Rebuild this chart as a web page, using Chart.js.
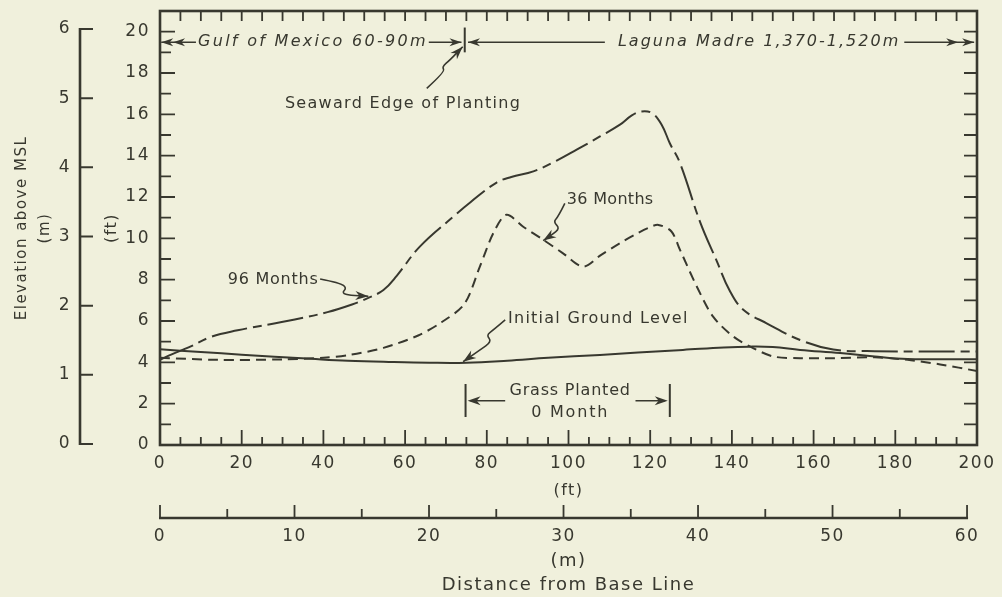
<!DOCTYPE html>
<html><head><meta charset="utf-8">
<script src="https://cdn.jsdelivr.net/npm/chart.js@4.4.0/dist/chart.umd.min.js"></script>
<style>html,body{margin:0;padding:0;background:#f0f0dc;}canvas{display:block;}</style>
</head><body>
<canvas id="c" width="1002" height="597"></canvas>
<script>
// ---------- data (feet) ----------
const distInitial = [0, 10, 20, 28, 37, 46, 56, 66, 75, 85, 95, 107.7, 117, 128, 138, 144.4, 150, 156.7, 166.5, 175, 183, 191, 200];
const elevInitial = [4.63, 4.5, 4.37, 4.27, 4.17, 4.08, 4.02, 3.98, 3.98, 4.08, 4.22, 4.36, 4.48, 4.6, 4.72, 4.76, 4.74, 4.6, 4.45, 4.28, 4.16, 4.15, 4.15];

const dist36 = [0, 14, 30, 40, 46.5, 54.7, 63.2, 69, 74.5, 78.3, 81.6, 84.8, 89, 93.8, 98.5, 103.6, 108, 112.6, 116, 119.5, 122, 125.2, 127.3, 131.4, 135.4, 140.4, 145.3, 150.2, 156.7, 165, 175, 183, 191, 200];
const elev36 = [4.22, 4.12, 4.14, 4.22, 4.36, 4.7, 5.3, 5.95, 6.82, 8.63, 10.25, 11.14, 10.55, 9.93, 9.3, 8.63, 9.2, 9.77, 10.15, 10.5, 10.65, 10.33, 9.44, 7.67, 6.21, 5.24, 4.68, 4.28, 4.2, 4.2, 4.24, 4.12, 3.9, 3.58];

const dist96 = [0, 3, 7, 12.6, 19, 27.3, 33, 41, 47, 51, 54.7, 58, 63.6, 71.8, 76, 82.4, 86, 91.4, 97, 102, 107.7, 112.6, 115.5, 117.9, 120.5, 122.8, 124.8, 127.3, 132.2, 136.3, 139.5, 142.8, 148.5, 156.7, 164.8, 175, 188, 200];
const elev96 = [4.12, 4.4, 4.72, 5.24, 5.55, 5.86, 6.07, 6.43, 6.8, 7.12, 7.5, 8.2, 9.6, 11.05, 11.75, 12.7, 12.97, 13.24, 13.75, 14.29, 14.93, 15.5, 15.95, 16.14, 16.05, 15.5, 14.6, 13.64, 10.8, 8.9, 7.45, 6.54, 5.89, 5.08, 4.62, 4.54, 4.52, 4.52];

// ---------- tick labels ----------
const ftDistTicks = [0, 20, 40, 60, 80, 100, 120, 140, 160, 180, 200];
const ftElevTicks = [0, 2, 4, 6, 8, 10, 12, 14, 16, 18, 20];
const mDistTicks = [0, 10, 20, 30, 40, 50, 60];
const mElevTicks = [0, 1, 2, 3, 4, 5, 6];

// ---------- annotations (data units, ft) ----------
const notes = [
  {text: 'Gulf of Mexico 60-90m', x: 9.3, y: 19.49, align: 'left', size: 16, sp: 2.3, italic: true},
  {text: 'Laguna Madre 1,370-1,520m', x: 112.1, y: 19.49, align: 'left', size: 16, sp: 2.0, italic: true},
  {text: 'Seaward Edge of Planting', x: 59.5, y: 16.5, align: 'center', size: 16, sp: 1.3},
  {text: '96 Months', x: 16.6, y: 7.98, align: 'left', size: 16, sp: 0.75},
  {text: '36 Months', x: 99.6, y: 11.85, align: 'left', size: 16, sp: 0.3},
  {text: 'Initial Ground Level', x: 85.2, y: 6.1, align: 'left', size: 16, sp: 1.25},
  {text: 'Grass Planted', x: 100.4, y: 2.61, align: 'center', size: 16, sp: 0.8},
  {text: '0 Month', x: 100.4, y: 1.57, align: 'center', size: 16, sp: 1.8}
];
const leaders = [
  [[65.3, 17.26], [69.8, 18.06], [69.0, 18.3], [71.0, 18.63], [74.1, 19.27]],
  [[39.2, 8.03], [44.1, 7.84], [45.7, 7.6], [44.5, 7.35], [46.5, 7.24], [51.0, 7.2]],
  [[99.1, 11.69], [97.5, 11.05], [96.3, 10.8], [97.9, 10.48], [95.9, 10.16], [93.8, 9.89]],
  [[84.5, 6.05], [81.6, 5.56], [79.9, 5.32], [81.2, 5.0], [78.3, 4.6], [74.2, 4.03]]
];

const BG = '#f0f0dc';
const INK = '#38382f';
const FONT = '"DejaVu Sans", sans-serif';
const pts = (xs, ys) => xs.map((x, i) => ({x, y: ys[i]}));
const fixTicks = arr => scale => { scale.ticks = arr.map(v => ({value: v})); };
const fitH = h => s => { s.height = h; s.paddingLeft = 0; s.paddingRight = 0; s.paddingTop = 0; s.paddingBottom = 0; };
const fitW = w => s => { s.width = w; s.paddingLeft = 0; s.paddingRight = 0; s.paddingTop = 0; s.paddingBottom = 0; };

function arrowHead(ctx, tx, ty, fx, fy, len, half) {
  const a = Math.atan2(ty - fy, tx - fx), c = Math.cos(a), s = Math.sin(a);
  ctx.beginPath();
  ctx.moveTo(tx, ty);
  ctx.lineTo(tx - len * c + half * s, ty - len * s - half * c);
  ctx.lineTo(tx - len * 0.7 * c, ty - len * 0.7 * s);
  ctx.lineTo(tx - len * c - half * s, ty - len * s + half * c);
  ctx.closePath();
  ctx.fill();
}

const paper = {
  id: 'paper',
  beforeDraw(chart) {
    const {ctx, width, height} = chart;
    ctx.save();
    ctx.fillStyle = BG;
    ctx.fillRect(0, 0, width, height);
    ctx.restore();
    ctx.letterSpacing = '1.5px';
  },
  afterDraw(chart) {
    const {ctx, chartArea: a, scales: {x, y, xm, ym}} = chart;
    const X = v => x.getPixelForValue(v), Y = v => y.getPixelForValue(v);
    ctx.save();
    ctx.strokeStyle = INK; ctx.fillStyle = INK;
    // frame ticks
    ctx.lineWidth = 1.8;
    ctx.beginPath();
    for (let v = 5; v < 200; v += 5) {
      const px = X(v);
      const L = v % 20 === 0 ? 15 : 8;
      ctx.moveTo(px, a.bottom); ctx.lineTo(px, a.bottom - L);
      ctx.moveTo(px, a.top); ctx.lineTo(px, a.top + 10);
    }
    for (let v = 1; v < 21; v += 1) {
      const py = Y(v);
      ctx.moveTo(a.left, py); ctx.lineTo(a.left + (v % 2 === 0 ? 15 : 11), py);
      ctx.moveTo(a.right, py); ctx.lineTo(a.right - 13, py);
    }
    ctx.stroke();
    // frame
    ctx.lineWidth = 2.6;
    ctx.strokeRect(a.left, a.top, a.right - a.left, a.bottom - a.top);

    // metric elevation axis
    const mx = ym.right - 20;
    ctx.lineWidth = 2.6;
    ctx.beginPath();
    ctx.moveTo(mx, ym.getPixelForValue(mElevTicks[0]) + 1);
    ctx.lineTo(mx, ym.getPixelForValue(mElevTicks[mElevTicks.length - 1]) - 1);
    ctx.stroke();
    ctx.lineWidth = 2;
    ctx.beginPath();
    mElevTicks.forEach(v => { const py = ym.getPixelForValue(v); ctx.moveTo(mx, py); ctx.lineTo(mx + 13, py); });
    ctx.stroke();
    // metric distance axis
    const my = xm.top;
    ctx.lineWidth = 2.6;
    ctx.beginPath();
    ctx.moveTo(xm.getPixelForValue(mDistTicks[0]) - 1, my);
    ctx.lineTo(xm.getPixelForValue(mDistTicks[mDistTicks.length - 1]) + 1, my);
    ctx.stroke();
    ctx.lineWidth = 1.8;
    ctx.beginPath();
    for (let v = 0; v <= 60; v += 5) {
      const px = xm.getPixelForValue(v);
      ctx.moveTo(px, my); ctx.lineTo(px, my - (v % 10 === 0 ? 13 : 9));
    }
    ctx.stroke();

    // texts
    notes.forEach(n => {
      ctx.font = (n.italic ? 'italic ' : '') + n.size + 'px ' + FONT;
      ctx.letterSpacing = n.sp + 'px';
      ctx.textAlign = n.align; ctx.textBaseline = 'middle';
      ctx.fillText(n.text, X(n.x), Y(n.y));
    });
    ctx.letterSpacing = '0px';

    // top range arrows
    const ay = Y(19.49);
    ctx.lineWidth = 1.6;
    ctx.beginPath();
    ctx.moveTo(X(0.3), ay); ctx.lineTo(X(8.8), ay);
    ctx.moveTo(X(65.8), ay); ctx.lineTo(X(73.8), ay);
    ctx.moveTo(X(75.4), ay); ctx.lineTo(X(108.9), ay);
    ctx.moveTo(X(182.2), ay); ctx.lineTo(X(199.3), ay);
    ctx.stroke();
    arrowHead(ctx, X(0.3), ay, X(5), ay, 12, 4);
    arrowHead(ctx, X(3.2), ay, X(8), ay, 12, 4);
    arrowHead(ctx, X(73.8), ay, X(68), ay, 12, 4);
    arrowHead(ctx, X(75.4), ay, X(80), ay, 12, 4);
    arrowHead(ctx, X(195.4), ay, X(190), ay, 12, 4);
    arrowHead(ctx, X(199.3), ay, X(194), ay, 12, 4);
    ctx.lineWidth = 2;
    ctx.beginPath();
    ctx.moveTo(X(74.6), Y(20.2)); ctx.lineTo(X(74.6), Y(19.0));
    ctx.stroke();

    // grass planted bracket
    ctx.lineWidth = 2;
    ctx.beginPath();
    ctx.moveTo(X(74.8), Y(2.95)); ctx.lineTo(X(74.8), Y(1.35));
    ctx.moveTo(X(124.8), Y(2.95)); ctx.lineTo(X(124.8), Y(1.35));
    ctx.stroke();
    ctx.lineWidth = 1.6;
    const by = Y(2.14);
    ctx.beginPath();
    ctx.moveTo(X(84.5), by); ctx.lineTo(X(76), by);
    ctx.moveTo(X(116.4), by); ctx.lineTo(X(123.6), by);
    ctx.stroke();
    arrowHead(ctx, X(75.3), by, X(84), by, 13, 4.5);
    arrowHead(ctx, X(124.3), by, X(116), by, 13, 4.5);

    // squiggly leaders
    ctx.lineWidth = 1.6;
    leaders.forEach(L => {
      const P = L.map(p => [X(p[0]), Y(p[1])]);
      ctx.beginPath();
      ctx.moveTo(P[0][0], P[0][1]);
      for (let i = 1; i < P.length - 1; i++) {
        const mx2 = (P[i][0] + P[i + 1][0]) / 2, my2 = (P[i][1] + P[i + 1][1]) / 2;
        ctx.quadraticCurveTo(P[i][0], P[i][1], mx2, my2);
      }
      ctx.lineTo(P[P.length - 1][0], P[P.length - 1][1]);
      ctx.stroke();
      const t = P[P.length - 1], f = P[P.length - 2];
      arrowHead(ctx, t[0], t[1], f[0], f[1], 13, 4.5);
    });
    ctx.restore();
  }
};

const tickFont = {family: FONT, size: 17};
new Chart(document.getElementById('c'), {
  type: 'scatter',
  data: {
    datasets: [
      {label: 'Initial Ground Level', data: pts(distInitial, elevInitial), showLine: true, borderColor: INK, borderWidth: 2, pointRadius: 0, tension: 0.4},
      {label: '36 Months', data: pts(dist36, elev36), showLine: true, borderColor: INK, borderWidth: 2, borderDash: [10, 6], pointRadius: 0, tension: 0.3},
      {label: '96 Months', data: pts(dist96, elev96), showLine: true, borderColor: INK, borderWidth: 2, borderDash: [36, 6, 9, 6], pointRadius: 0, tension: 0.4}
    ]
  },
  options: {
    responsive: false,
    animation: false,
    events: [],
    layout: {padding: {left: 0, right: 25, top: 11, bottom: 0}},
    plugins: {legend: {display: false}, tooltip: {enabled: false}},
    scales: {
      x: {
        type: 'linear', position: 'bottom', weight: 0, min: 0, max: 200,
        afterBuildTicks: fixTicks(ftDistTicks), afterFit: fitH(73),
        grid: {display: false, drawTicks: false}, border: {display: false},
        ticks: {autoSkip: false, maxRotation: 0, padding: 8, color: INK, font: tickFont},
        title: {display: true, text: '(ft)', color: INK, font: {family: FONT, size: 16}, padding: {top: 0, bottom: 18}}
      },
      xm: {
        type: 'linear', position: 'bottom', weight: 1, min: 0, max: 60.74,
        afterBuildTicks: fixTicks(mDistTicks), afterFit: fitH(79),
        grid: {display: false, drawTicks: false}, border: {display: false},
        ticks: {autoSkip: false, maxRotation: 0, padding: 8, color: INK, font: tickFont},
        title: {display: true, text: ['(m)', 'Distance from Base Line'], color: INK, font: {family: FONT, size: 18, lineHeight: '24px'}, padding: {top: 0, bottom: 0}}
      },
      y: {
        type: 'linear', position: 'left', weight: 0, min: 0, max: 21,
        afterBuildTicks: fixTicks(ftElevTicks), afterFit: fitW(60),
        grid: {display: false, drawTicks: false}, border: {display: false},
        ticks: {autoSkip: false, padding: 10, color: INK, font: tickFont},
        title: {display: true, text: '(ft)', color: INK, font: {family: FONT, size: 16}, padding: {top: 2.4, bottom: 0}}
      },
      ym: {
        type: 'linear', position: 'left', weight: 1, min: -0.0145, max: 6.26,
        afterBuildTicks: fixTicks(mElevTicks), afterFit: fitW(100),
        grid: {display: false, drawTicks: false}, border: {display: false},
        ticks: {autoSkip: false, padding: 29, color: INK, font: tickFont},
        title: {display: true, text: ['Elevation above MSL', '(m)'], color: INK, font: {family: FONT, size: 15, lineHeight: '23px'}, padding: {top: 10.5, bottom: 0}}
      }
    }
  },
  plugins: [paper]
});
</script>
</body></html>
